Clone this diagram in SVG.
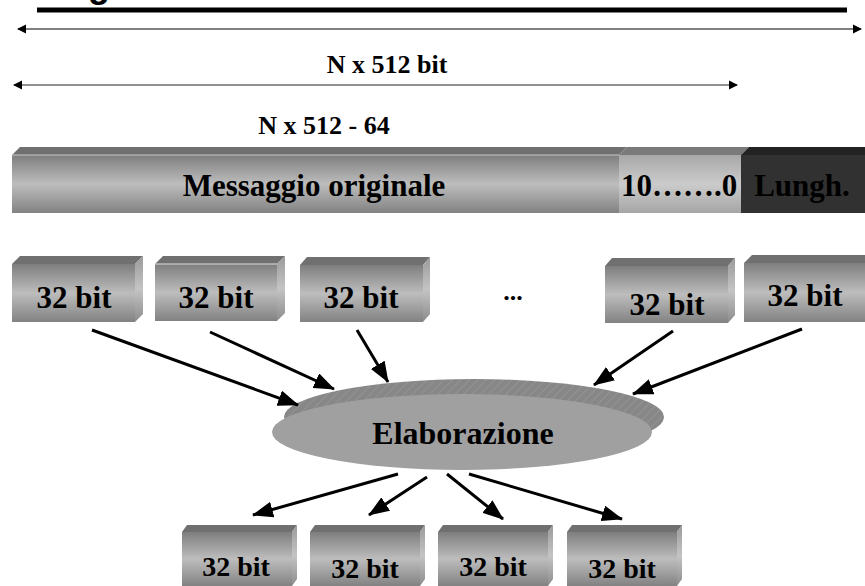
<svg xmlns="http://www.w3.org/2000/svg" width="865" height="586" viewBox="0 0 865 586">
<defs>
<style>
.t{font-family:"Liberation Serif","Times New Roman",serif;font-weight:bold;fill:#000}
.box-top{fill:#707070}
.box-side{fill:url(#gSide)}
.box-front{fill:url(#gFront)}
.conn{stroke:#000;stroke-width:3;fill:none;marker-end:url(#ah)}
</style>
<linearGradient id="gFront" x1="0" y1="0" x2="0" y2="1">
<stop offset="0" stop-color="#7e7e7e"/>
<stop offset="0.5" stop-color="#bdbdbd"/>
<stop offset="1" stop-color="#828282"/>
</linearGradient>
<linearGradient id="gSide" x1="0" y1="0" x2="0" y2="1">
<stop offset="0" stop-color="#9a9a9a"/>
<stop offset="0.5" stop-color="#c4c4c4"/>
<stop offset="1" stop-color="#8c8c8c"/>
</linearGradient>
<linearGradient id="gLight" x1="0" y1="0" x2="0" y2="1">
<stop offset="0" stop-color="#a8a8a8"/>
<stop offset="0.5" stop-color="#cbcbcb"/>
<stop offset="1" stop-color="#a6a6a6"/>
</linearGradient>
<pattern id="hatch" width="6" height="6" patternUnits="userSpaceOnUse" patternTransform="rotate(45)">
<rect width="6" height="6" fill="#878787"/>
<line x1="0" y1="0" x2="0" y2="6" stroke="#a0a0a0" stroke-width="1"/>
</pattern>
<marker id="ah" markerUnits="userSpaceOnUse" markerWidth="22" markerHeight="16" refX="20" refY="8" orient="auto">
<path d="M0,0 L21,8 L0,16 z" fill="#000"/>
</marker>
<marker id="sm" markerUnits="userSpaceOnUse" markerWidth="10" markerHeight="10" refX="8" refY="5" orient="auto-start-reverse">
<path d="M0,0.5 L9,5 L0,9.5 z" fill="#000"/>
</marker>
</defs>

<g id="title">
<text x="88" y="-3" font-family="Liberation Sans, Arial, sans-serif" font-weight="bold" font-size="36">g</text>
<line x1="37" y1="10" x2="847" y2="10" stroke="#000" stroke-width="5"/>
</g>

<g id="dimensions">
<line x1="18" y1="29" x2="861" y2="29" stroke="#808080" stroke-width="2" marker-start="url(#sm)" marker-end="url(#sm)"/>
<text class="t" x="387" y="73" font-size="26" text-anchor="middle">N x 512 bit</text>
<line x1="14" y1="85" x2="737" y2="85" stroke="#222" stroke-width="1" marker-start="url(#sm)" marker-end="url(#sm)"/>
<text class="t" x="324" y="134" font-size="26" text-anchor="middle">N x 512 - 64</text>
</g>

<g id="messaggio">
<polygon points="12,155 20,147 627,147 619,155" class="box-top"/>
<rect x="12" y="155" width="607" height="58" class="box-front"/>
<line x1="12" y1="155" x2="619" y2="155" stroke="#c8c8c8" stroke-width="1"/>
<text class="t" x="314" y="196" font-size="31" text-anchor="middle">Messaggio originale</text>
</g>
<g id="padding">
<polygon points="619,155 627,147 749,147 741,155" fill="#7a7a7a"/>
<rect x="619" y="155" width="122" height="58" fill="url(#gLight)"/>
<text class="t" x="679" y="196" font-size="31" text-anchor="middle">10…….0</text>
</g>
<g id="lunghezza">
<polygon points="741,155 749,147 865,147 865,155" fill="#232323"/>
<rect x="741" y="155" width="124" height="58" fill="#313131"/>
<text class="t" x="802" y="196" font-size="31" text-anchor="middle">Lungh.</text>
</g>

<g id="in1">
<polygon points="12,264 20,256 143,256 135,264" class="box-top"/>
<polygon points="135,264 143,256 143,314 135,322" class="box-side"/>
<rect x="12" y="264" width="123" height="58" class="box-front"/>
<text class="t" x="74" y="308" font-size="31" text-anchor="middle">32 bit</text>
</g>
<g id="in2">
<polygon points="155,264 163,256 285,256 277,264" class="box-top"/>
<polygon points="277,264 285,256 285,313 277,321" class="box-side"/>
<rect x="155" y="264" width="122" height="57" class="box-front"/>
<line x1="155" y1="264" x2="277" y2="264" stroke="#e0e0e0" stroke-width="1"/>
<text class="t" x="216" y="308" font-size="31" text-anchor="middle">32 bit</text>
</g>
<g id="in3">
<polygon points="300,265 307,257 430,257 423,265" class="box-top"/>
<polygon points="423,265 430,257 430,314 423,322" class="box-side"/>
<rect x="300" y="265" width="123" height="57" class="box-front"/>
<text class="t" x="361" y="308" font-size="31" text-anchor="middle">32 bit</text>
</g>
<g id="dots">
<text class="t" x="513" y="300" font-size="26" text-anchor="middle">...</text>
</g>
<g id="in4">
<polygon points="605,266 612,258 735,258 728,266" class="box-top"/>
<polygon points="728,266 735,258 735,315 728,323" class="box-side"/>
<rect x="605" y="266" width="123" height="57" class="box-front"/>
<text class="t" x="667" y="315" font-size="31" text-anchor="middle">32 bit</text>
</g>
<g id="in5">
<polygon points="744,263 752,255 873,255 865,263" class="box-top"/>
<rect x="744" y="263" width="122" height="59" class="box-front"/>
<text class="t" x="805" y="306" font-size="31" text-anchor="middle">32 bit</text>
</g>

<g id="elaborazione">
<ellipse cx="474" cy="417" rx="190" ry="38" fill="url(#hatch)"/>
<ellipse cx="462" cy="432" rx="190" ry="38" fill="#a0a0a0"/>
<text class="t" x="463" y="444" font-size="32" text-anchor="middle">Elaborazione</text>
</g>

<g id="out1">
<polygon points="182,532 187,525 297,525 292,532" class="box-top"/>
<polygon points="292,532 297,525 297,579 292,586" class="box-side"/>
<rect x="182" y="532" width="110" height="54" class="box-front"/>
<text class="t" x="236" y="576" font-size="28" text-anchor="middle">32 bit</text>
</g>
<g id="out2">
<polygon points="310,532 315,525 425,525 420,532" class="box-top"/>
<polygon points="420,532 425,525 425,579 420,586" class="box-side"/>
<rect x="310" y="532" width="110" height="54" class="box-front"/>
<text class="t" x="365" y="578" font-size="28" text-anchor="middle">32 bit</text>
</g>
<g id="out3">
<polygon points="438,532 443,525 553,525 548,532" class="box-top"/>
<polygon points="548,532 553,525 553,579 548,586" class="box-side"/>
<rect x="438" y="532" width="110" height="54" class="box-front"/>
<text class="t" x="493" y="576" font-size="28" text-anchor="middle">32 bit</text>
</g>
<g id="out4">
<polygon points="567,532 572,525 682,525 677,532" class="box-top"/>
<polygon points="677,532 682,525 682,579 677,586" class="box-side"/>
<rect x="567" y="532" width="110" height="54" class="box-front"/>
<text class="t" x="622" y="578" font-size="28" text-anchor="middle">32 bit</text>
</g>

<g id="connectors">
<line class="conn" x1="92" y1="330" x2="298" y2="405"/>
<line class="conn" x1="210" y1="332" x2="334" y2="389"/>
<line class="conn" x1="357" y1="330" x2="388" y2="382"/>
<line class="conn" x1="673" y1="331" x2="594" y2="385"/>
<line class="conn" x1="802" y1="329" x2="633" y2="394"/>
<line class="conn" x1="398" y1="474" x2="253" y2="515"/>
<line class="conn" x1="427" y1="477" x2="369" y2="515"/>
<line class="conn" x1="447" y1="474" x2="503" y2="519"/>
<line class="conn" x1="469" y1="474" x2="622" y2="519"/>
</g>
</svg>
